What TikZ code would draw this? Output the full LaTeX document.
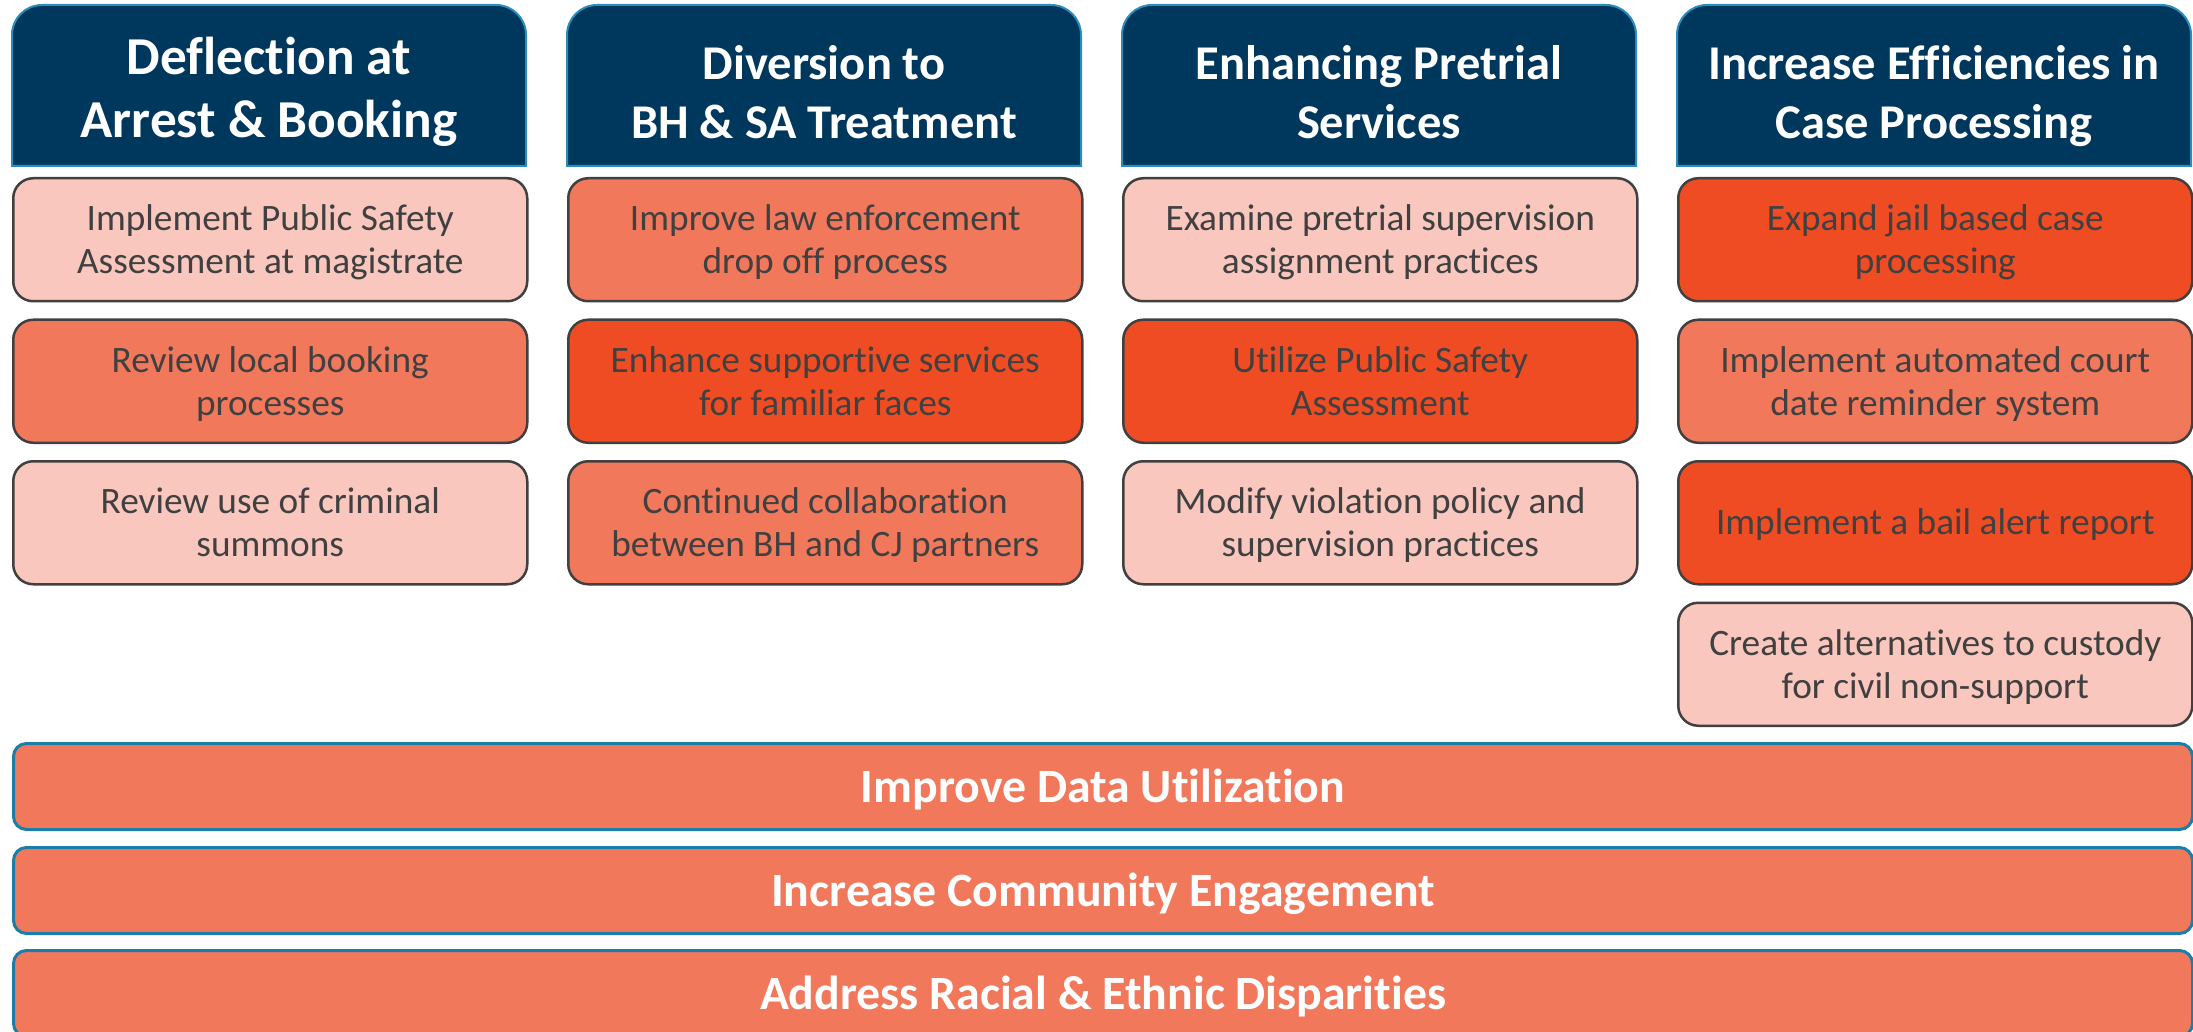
\documentclass[tikz,border=0pt]{standalone}
\usepackage{fontspec}
\setmainfont{Carlito}[Ligatures={NoCommon}]
\definecolor{navy}{HTML}{00385D}
\definecolor{hdrblue}{HTML}{2B8CBE}
\definecolor{pinkL}{HTML}{F9C7BD}
\definecolor{coralM}{HTML}{F2785C}
\definecolor{redD}{HTML}{F04C23}
\definecolor{boxborder}{HTML}{404040}
\definecolor{barblue}{HTML}{1B7DA8}
\definecolor{txtgray}{HTML}{404040}
\tikzset{
  hdrshape/.style={fill=navy, draw=hdrblue, line width=2pt},
  hdrtext/.style={text=white, font=\fontsize{48.5}{59}\selectfont\bfseries, align=center, inner sep=0pt, anchor=base},
  bighdr/.style={font=\fontsize{53.3}{63}\selectfont\bfseries},
  item/.style={draw=boxborder, line width=2.5pt, rounded corners=20pt, minimum width=514pt, minimum height=123pt,
    font=\fontsize{37.3}{43}\selectfont, text=txtgray, align=center, inner sep=0pt, anchor=north west,
    text height=70pt, text depth=2.4pt},
  oneline/.style={text height=26pt, text depth=2pt},
  lightbox/.style={item, fill=pinkL},
  midbox/.style={item, fill=coralM},
  darkbox/.style={item, fill=redD},
  barbox/.style={draw=barblue, line width=3pt, fill=coralM, rounded corners=13pt, minimum width=2179pt, minimum height=86pt,
    text=white, font=\fontsize{47.8}{56}\selectfont\bfseries, inner sep=0pt, anchor=north west,
    text height=32pt, text depth=0pt}
}
\newcommand\hdrbox[5]{%
  \path[hdrshape] (#2,-166) -- (#2,-35) arc[start angle=180,end angle=90,radius=30pt] -- ({#2+484},-5)
    arc[start angle=90,end angle=0,radius=30pt] -- ({#2+514},-166) -- cycle;
  \node[hdrtext,#5] (#1) at ({#2+257},-#4) {#3};}
\begin{document}
\begin{tikzpicture}[x=1pt,y=1pt]
\useasboundingbox[fill=white] (0,0) rectangle (2193,-1032);
% headers
\hdrbox{h1}{12}{Deflection at\\Arrest \& Booking}{138}{bighdr}
\hdrbox{h2}{567}{Diversion to\\BH \& SA Treatment}{139}{}
\hdrbox{h3}{1122}{Enhancing Pretrial\\Services}{139}{}
\hdrbox{h4}{1677}{Increase Efficiencies in\\Case Processing}{139}{}
% column 1
\node[lightbox] (a1) at (12,-177) {Implement Public Safety\\Assessment at magistrate};
\node[midbox]   (a2) at (12,-318.5) {Review local booking\\processes};
\node[lightbox] (a3) at (12,-460) {Review use of criminal\\summons};
% column 2
\node[midbox]   (b1) at (567,-177) {Improve law enforcement\\drop off process};
\node[darkbox]  (b2) at (567,-318.5) {Enhance supportive services\\for familiar faces};
\node[midbox]   (b3) at (567,-460) {Continued collaboration\\between BH and CJ partners};
% column 3
\node[lightbox] (c1) at (1122,-177) {Examine pretrial supervision\\assignment practices};
\node[darkbox]  (c2) at (1122,-318.5) {Utilize Public Safety\\Assessment};
\node[lightbox] (c3) at (1122,-460) {Modify violation policy and\\supervision practices};
% column 4
\node[darkbox]  (d1) at (1677,-177) {Expand jail based case\\processing};
\node[midbox]   (d2) at (1677,-318.5) {Implement automated court\\date reminder system};
\node[darkbox,oneline] (d3) at (1677,-460) {Implement a bail alert report};
\node[lightbox] (d4) at (1677,-601.5) {Create alternatives to custody\\for civil non-support};
% bars
\node[barbox] (e1) at (12,-742) {Improve Data Utilization};
\node[barbox] (e2) at (12,-846) {Increase Community Engagement};
\node[barbox] (e3) at (12,-949) {Address Racial \& Ethnic Disparities};
\end{tikzpicture}
\end{document}
